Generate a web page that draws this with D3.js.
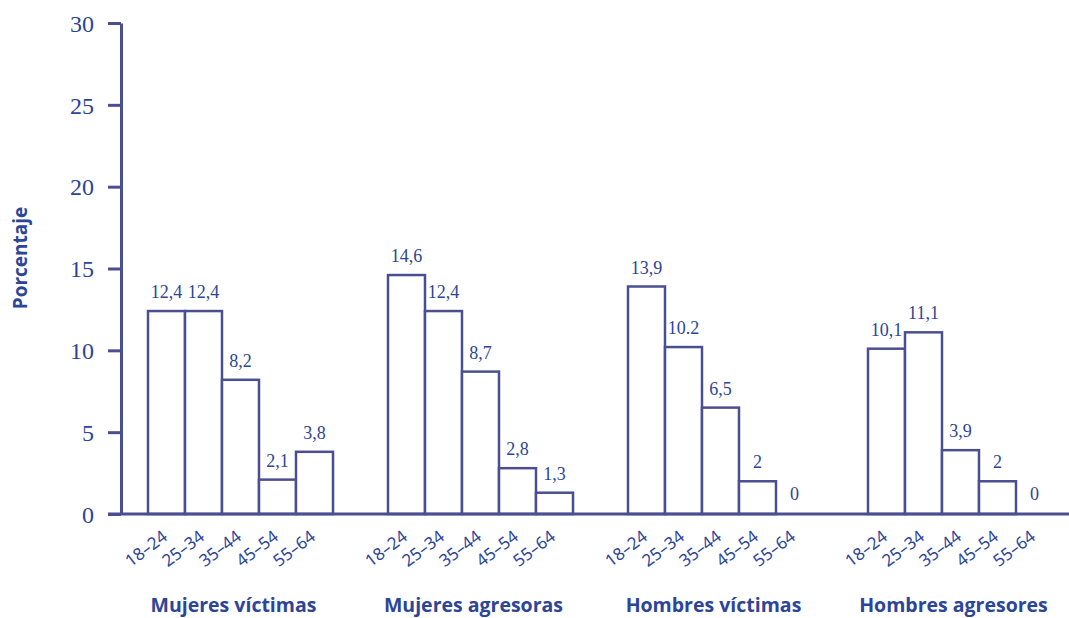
<!DOCTYPE html>
<html><head><meta charset="utf-8">
<script src="https://cdn.jsdelivr.net/npm/d3@7"></script>
<style>body{margin:0;background:#fff}svg{display:block}</style>
</head><body>
<svg id="c" width="1069" height="618"></svg>
<script>
const groups = ["Mujeres víctimas","Mujeres agresoras","Hombres víctimas","Hombres agresores"];
const ages = ["18–24","25–34","35–44","45–54","55–64"];
const mujeresVictimas = [12.4,12.4,8.2,2.1,3.8];
const mujeresAgresoras = [14.6,12.4,8.7,2.8,1.3];
const hombresVictimas = [13.9,10.2,6.5,2,0];
const hombresAgresores = [10.1,11.1,3.9,2,0];
const valueLabels = [
  ["12,4","12,4","8,2","2,1","3,8"],
  ["14,6","12,4","8,7","2,8","1,3"],
  ["13,9","10.2","6,5","2","0"],
  ["10,1","11,1","3,9","2","0"]
];
const yTicks = [0,5,10,15,20,25,30];
const series = [mujeresVictimas, mujeresAgresoras, hombresVictimas, hombresAgresores];

const stroke = "#4b4f92", textC = "#2c4597";
const svg = d3.select("#c");
const y = d3.scaleLinear().domain([0,30]).range([514,23]);
const x0 = d3.scaleBand().domain(groups).range([148,1053]).paddingInner(55/240).paddingOuter(0);
const x1 = d3.scaleBand().domain(ages).range([0,x0.bandwidth()]).padding(0);

// y axis
const yAxis = d3.axisLeft(y).tickValues(yTicks).tickSize(13).tickPadding(14).tickSizeOuter(0);
const ga = svg.append("g").attr("transform","translate(121,0)").call(yAxis);
ga.select(".domain").attr("stroke",stroke).attr("stroke-width",3);
ga.selectAll(".tick line").attr("stroke",stroke).attr("stroke-width",3);
ga.selectAll(".tick text").attr("fill",textC).attr("font-family","Liberation Serif").attr("font-size",24).attr("dy","0.34em");

const data = [];
groups.forEach((g,gi)=>ages.forEach((a,ai)=>data.push({g,a,v:series[gi][ai],lab:valueLabels[gi][ai]})));

// bars
svg.append("g").selectAll("rect").data(data.filter(d=>d.v>0)).join("rect")
  .attr("x",d=>x0(d.g)+x1(d.a)).attr("width",x1.bandwidth())
  .attr("y",d=>y(d.v)).attr("height",d=>y(0)-y(d.v))
  .attr("fill","#fff").attr("stroke",stroke).attr("stroke-width",2.5);

// x axis line
svg.append("line").attr("x1",108).attr("x2",1069).attr("y1",y(0)).attr("y2",y(0))
  .attr("stroke",stroke).attr("stroke-width",3);

// value labels
svg.append("g").selectAll("text").data(data).join("text")
  .attr("x",d=>x0(d.g)+x1(d.a)+x1.bandwidth()/2)
  .attr("y",d=>y(d.v)-(d.v===0?14:13))
  .attr("text-anchor","middle").attr("fill",textC)
  .attr("font-family","Liberation Serif").attr("font-size",18).text(d=>d.lab);

// age labels
svg.append("g").selectAll("text").data(data).join("text")
  .attr("transform",d=>`translate(${x0(d.g)+x1(d.a)+x1.bandwidth()/2+2},${y(0)+25}) rotate(-37)`)
  .attr("text-anchor","end").attr("fill",textC)
  .attr("font-family","Noto Sans").attr("font-size",17).text(d=>d.a);

// group titles
svg.append("g").selectAll("text").data(groups).join("text")
  .attr("x",d=>x0(d)+x0.bandwidth()/2-7).attr("y",612)
  .attr("text-anchor","middle").attr("fill",textC)
  .attr("font-family","Open Sans").attr("font-weight","bold").attr("font-size",19.5).text(d=>d);

// y title
svg.append("text").attr("transform","translate(27,258) rotate(-90)")
  .attr("text-anchor","middle").attr("fill",textC)
  .attr("font-family","Open Sans").attr("font-weight","bold").attr("font-size",19).text("Porcentaje");
</script>
</body></html>
